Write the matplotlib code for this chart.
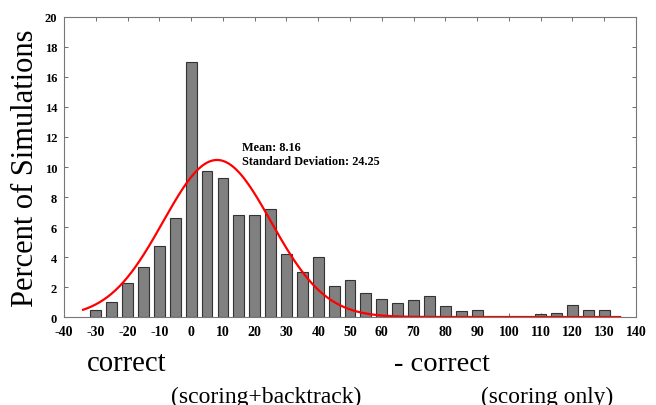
import numpy as np
import matplotlib.pyplot as plt

# histogram bins (percent difference) and percent of simulations
bins = [-30, -25, -20, -15, -10, -5, 0, 5, 10, 15, 20, 25, 30, 35, 40, 45, 50,
        55, 60, 65, 70, 75, 80, 85, 90, 95, 100, 105, 110, 115, 120, 125, 130]
percent = [0.49, 0.97, 2.3, 3.34, 4.74, 6.58, 17.0, 9.72, 9.3, 6.82, 6.8, 7.22, 4.23,
           2.99, 3.99, 2.06, 2.44, 1.62, 1.22, 0.95, 1.15, 1.37, 0.71, 0.38, 0.47,
           0.0, 0.0, 0.0, 0.22, 0.29, 0.82, 0.47, 0.47]

# stats shown in the label
mean = 8.16
std = 24.25
# fitted curve as drawn (width)
curve_mean = 8.16
curve_sd = 17.0
curve_peak = 10.47
curve_range = (-34, 135)

plt.rcParams['font.family'] = ['Liberation Serif', 'DejaVu Serif']
plt.rcParams['axes.unicode_minus'] = False

fig = plt.figure(figsize=(6.56, 4.06), dpi=100)
ax = fig.add_axes([0.0976, 0.2167, 0.8719, 0.739])

ax.bar(bins, percent, width=3.4, color='#808080', edgecolor='#333333', linewidth=0.8, zorder=2)

xs = np.linspace(curve_range[0], curve_range[1], 400)
ys = curve_peak * np.exp(-0.5 * ((xs - curve_mean) / curve_sd) ** 2)
ax.plot(xs, ys, color='red', linewidth=1.6, zorder=3)

ax.text(16, 11.75, f'Mean: {mean}\nStandard Deviation: {std}', fontsize=8.8,
        fontweight='bold', va='top', ha='left', linespacing=1.3)

ax.set_xlim(-40, 140)
ax.set_ylim(0, 20)
ax.set_xticks(np.arange(-40, 141, 10))
ax.set_yticks(np.arange(0, 21, 2))
ax.tick_params(direction='in', length=3, width=0.6, color='#555555',
               top=True, right=True)
ax.tick_params(axis='x', labelsize=10, pad=6)
ax.tick_params(axis='y', labelsize=9, pad=5)
for lab in ax.get_xticklabels() + ax.get_yticklabels():
    lab.set_fontweight('bold')
for s in ax.spines.values():
    s.set_color('#777777')
    s.set_linewidth(0.8)

ax.set_ylabel('Percent of Simulations', fontsize=22, labelpad=3)

fig.text(87 / 656, 1 - 371 / 406, 'correct', fontsize=20.7, va='baseline', ha='left')
fig.text(394 / 656, 1 - 371 / 406, '- correct', fontsize=20.5, va='baseline', ha='left')
fig.text(171 / 656, 1 - 403 / 406, '(scoring+backtrack)', fontsize=17, va='baseline', ha='left')
fig.text(481 / 656, 1 - 403 / 406, '(scoring only)', fontsize=16.8, va='baseline', ha='left')

fig.savefig('out.png', dpi=100)
